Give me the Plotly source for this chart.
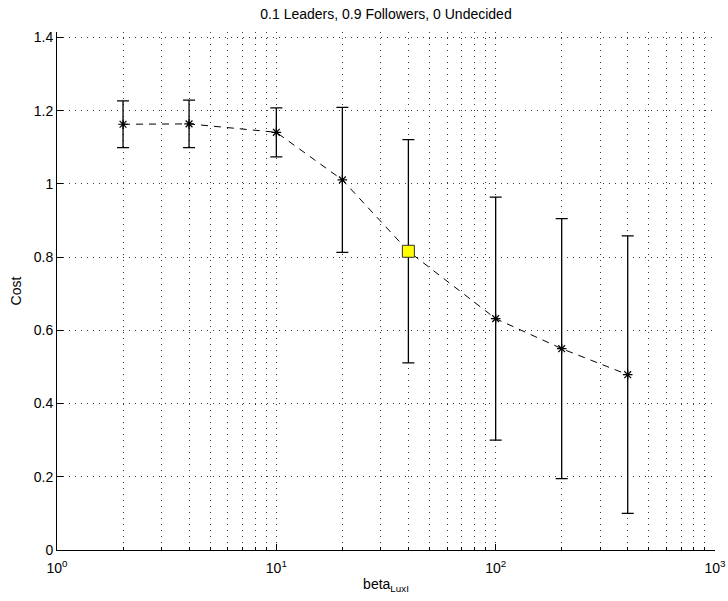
import plotly.graph_objects as go

# Cost vs. beta_LuxI (mean ± std)
beta = [2, 4, 10, 20, 40, 100, 200, 400]
cost_mean = [1.163, 1.164, 1.141, 1.011, 0.816, 0.632, 0.550, 0.479]
cost_std = [0.064, 0.065, 0.067, 0.198, 0.305, 0.332, 0.355, 0.379]

# highlighted operating point
highlight_beta = [40]
highlight_cost = [0.816]

x_tickvals = [1, 10, 100, 1000]
x_ticktext = ["10<sup>0</sup>", "10<sup>1</sup>", "10<sup>2</sup>", "10<sup>3</sup>"]
x_minor = [m * 10 ** e for e in range(3) for m in range(2, 10)]

FONT = "Liberation Sans, Arial, Helvetica, sans-serif"
GRID = dict(gridcolor="#3a3a3a", griddash="1px,5px", gridwidth=1)

fig = go.Figure()

fig.add_trace(go.Scatter(
    x=beta, y=cost_mean,
    mode="lines+markers",
    line=dict(color="black", width=1, dash="7px,6px"),
    marker=dict(symbol="asterisk-open", size=8, color="black",
                line=dict(color="black", width=1.2)),
    error_y=dict(type="data", array=cost_std, visible=True,
                 color="black", thickness=1.3, width=6),
    showlegend=False,
))

fig.add_trace(go.Scatter(
    x=highlight_beta, y=highlight_cost,
    mode="markers",
    marker=dict(symbol="square", size=12, color="#ffff00",
                line=dict(color="#333333", width=1)),
    showlegend=False,
))

fig.update_layout(
    width=728, height=601,
    margin=dict(l=57, r=13, t=32, b=51),
    plot_bgcolor="white", paper_bgcolor="white",
    font=dict(family=FONT, size=14, color="black"),
    title=dict(text="0.1 Leaders, 0.9 Followers, 0 Undecided",
               x=(57 + 715) / 2 / 728, xanchor="center",
               y=1 - 14 / 601, yanchor="middle",
               font=dict(size=14, family=FONT, color="black")),
)

fig.update_xaxes(
    type="log", range=[0, 3],
    tickvals=x_tickvals, ticktext=x_ticktext,
    ticks="inside", ticklen=6, tickcolor="black",
    showline=True, linecolor="black", linewidth=1,
    showgrid=True, **GRID,
    minor=dict(tickvals=x_minor, ticks="inside", ticklen=3, tickcolor="black",
               showgrid=True, **GRID),
    zeroline=False,
    automargin=False,
    ticklabelstandoff=5,
    title=dict(text="beta<sub>LuxI</sub>", font=dict(size=14, family=FONT), standoff=4),
    tickfont=dict(size=14, family=FONT),
)

fig.update_yaxes(
    range=[0, 1.415], dtick=0.2, tick0=0,
    ticks="inside", ticklen=6, tickcolor="black",
    showline=True, linecolor="black", linewidth=1,
    showgrid=True, **GRID,
    zeroline=False,
    automargin=False,
    title=dict(text="Cost", font=dict(size=14, family=FONT), standoff=8),
    tickfont=dict(size=14, family=FONT),
)

fig.write_html("out.html")
